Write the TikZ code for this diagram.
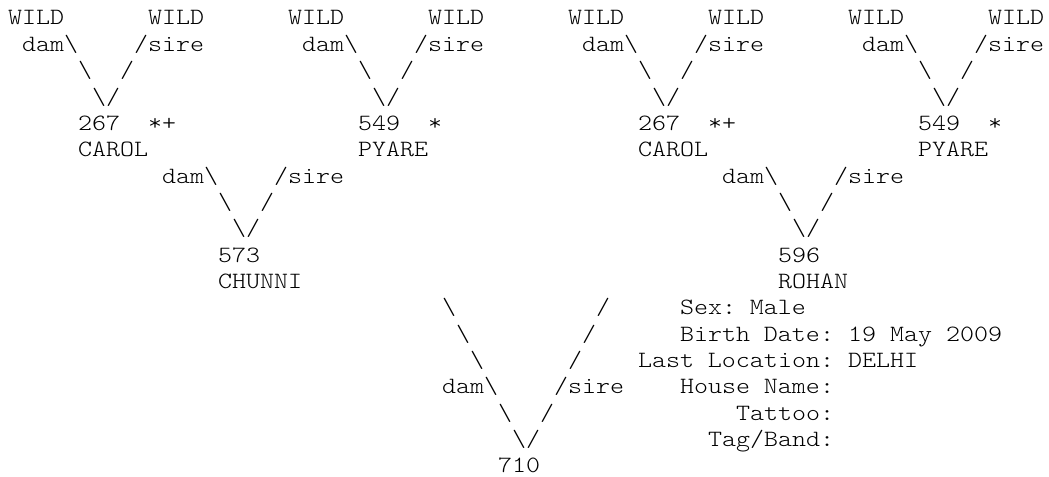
\documentclass[tikz,border=0pt]{standalone}
\usepackage{fontspec}
\newfontfamily\courfont{Latin Modern Mono Light}[FakeStretch=1.143]
\tikzset{txt/.style={anchor=base west,inner sep=0pt,outer sep=0pt,text=black,font=\courfont\fontsize{17.5pt}{19.76pt}\selectfont\frenchspacing}}
\newcommand\mytok[4]{\node[txt] (#1) at ({6pt+10.5pt*(#2)},{-18.75pt-19.76pt*((#3)-1)}) {#4};}
\newcommand\bsl{\textbackslash}
\begin{document}
\begin{tikzpicture}
\fill[white] (0,0) rectangle (786.75pt,-357.75pt);
\useasboundingbox (0,0) rectangle (786.75pt,-357.75pt);
% level 1 groups
\foreach \g/\num/\mk/\nm in {0/267/*+/CAROL,1/549/*/PYARE,2/267/*+/CAROL,3/549/*/PYARE}{
  \pgfmathtruncatemacro{\L}{20*\g}
  \mytok{wa\g}{\L}{1}{WILD}
  \mytok{wb\g}{\L+10}{1}{WILD}
  \mytok{dm\g}{\L+1}{2}{dam\bsl}
  \mytok{sr\g}{\L+9}{2}{/sire}
  \mytok{bl\g}{\L+5}{3}{\bsl}
  \mytok{fl\g}{\L+8}{3}{/}
  \mytok{v\g}{\L+6}{4}{\bsl/}
  \mytok{n\g}{\L+5}{5}{\num}
  \mytok{mk\g}{\L+10}{5}{\mk}
  \mytok{nm\g}{\L+5}{6}{\nm}
}
% level 2 groups
\foreach \g/\c/\num/\nm in {1/15/573/CHUNNI,2/55/596/ROHAN}{
  \mytok{dmb\g}{\c-4}{7}{dam\bsl}
  \mytok{srb\g}{\c+4}{7}{/sire}
  \mytok{blb\g}{\c}{8}{\bsl}
  \mytok{flb\g}{\c+3}{8}{/}
  \mytok{vb\g}{\c+1}{9}{\bsl/}
  \mytok{nb\g}{\c}{10}{\num}
  \mytok{nmb\g}{\c}{11}{\nm}
}
% level 3
\mytok{bl12}{31}{12}{\bsl}
\mytok{fl12}{42}{12}{/}
\mytok{bl13}{32}{13}{\bsl}
\mytok{fl13}{41}{13}{/}
\mytok{bl14}{33}{14}{\bsl}
\mytok{fl14}{40}{14}{/}
\mytok{dmc}{31}{15}{dam\bsl}
\mytok{src}{39}{15}{/sire}
\mytok{bl16}{35}{16}{\bsl}
\mytok{fl16}{38}{16}{/}
\mytok{vc}{36}{17}{\bsl/}
\mytok{nc}{35}{18}{710}
% info
\mytok{sex}{48}{12}{Sex: Male}
\mytok{bd}{48}{13}{Birth Date: 19 May 2009}
\mytok{loc}{45}{14}{Last Location: DELHI}
\mytok{house}{48}{15}{House Name:}
\mytok{tat}{52}{16}{Tattoo:}
\mytok{tag}{50}{17}{Tag/Band:}
\end{tikzpicture}
\end{document}
